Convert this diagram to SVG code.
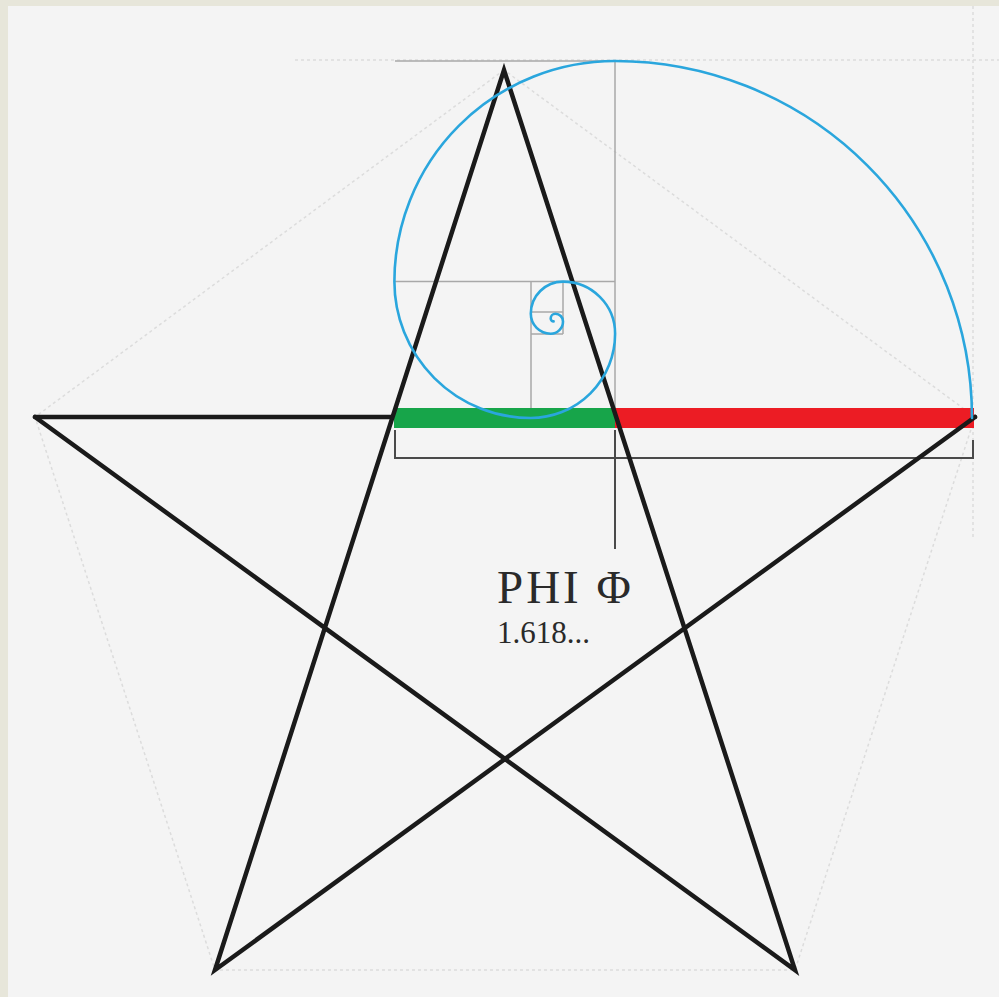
<svg xmlns="http://www.w3.org/2000/svg" width="999" height="997" viewBox="0 0 999 997">
<style>
.faint{fill:none;stroke:#dcdcdc;stroke-width:1.5;stroke-dasharray:3 3}
.guide{fill:none;stroke:#a8a8a8;stroke-width:1.5}
.star{fill:none;stroke:#1a1a1a;stroke-width:4.5;stroke-linejoin:miter;stroke-linecap:round}
.spiral{fill:none;stroke:#2aa6dd;stroke-width:2.6;stroke-linecap:round}
.bracket{fill:none;stroke:#4a4a4a;stroke-width:2}
.lbl{font-family:"Liberation Serif","DejaVu Serif",serif;fill:#2a2a2a}
</style>
<rect width="999" height="997" fill="#e7e6da"/>
<rect x="8" y="6" width="991" height="991" fill="#f4f4f4"/>
<g id="pentagon">
<path class="faint" d="M504,70 L35,417 L215,970 L795,970 L975,417 Z"/>
<line class="faint" x1="295" y1="60" x2="999" y2="60"/>
<line class="faint" x1="973" y1="6" x2="973" y2="540"/>
</g>
<g id="guides">
<line class="guide" x1="395" y1="61" x2="615" y2="61"/>
<line class="guide" x1="615" y1="61" x2="615" y2="418"/>
<line class="guide" x1="395" y1="281.6" x2="615" y2="281.6"/>
<line class="guide" x1="531" y1="281.6" x2="531" y2="418"/>
<line class="guide" x1="531" y1="312" x2="563" y2="312"/>
<line class="guide" x1="563" y1="281.6" x2="563" y2="334"/>
<line class="guide" x1="531" y1="334" x2="563" y2="334"/>
</g>
<g id="star-base">
<line class="star" x1="35" y1="417" x2="975" y2="417"/>
</g>
<g id="segments">
<rect id="green" x="394" y="408" width="221" height="20" fill="#17a54a"/>
<rect id="red" x="615" y="408" width="359" height="20" fill="#ec1c24"/>
</g>
<g id="bracket">
<path class="bracket" d="M395,430 V458 H973 V440"/>
<line class="bracket" x1="615" y1="430" x2="615" y2="549"/>
</g>
<g id="star">
<path class="star" d="M35,417 L795,970 L504,70 L215,970 L975,417"/>
</g>
<g id="spiral">
<path class="spiral" d="M972,418 A357,357 0 0 0 615,61 A220.6,220.6 0 0 0 394.4,281.6 A136.4,136.4 0 0 0 530.8,418 A84.3,84.3 0 0 0 615.1,333.7 A52.1,52.1 0 0 0 563,281.6 A32.2,32.2 0 0 0 530.8,313.8 A19.9,19.9 0 0 0 550.7,333.7 A12.3,12.3 0 0 0 563,321.4 A7.6,7.6 0 0 0 555.4,313.8 A4.7,4.7 0 0 0 550.7,318.5 A2.9,2.9 0 0 0 553.6,321.4"/>
</g>
<g id="label">
<text class="lbl" x="497" y="603" font-size="47" letter-spacing="3">PHI Φ</text>
<text class="lbl" x="497" y="643" font-size="31">1.618...</text>
</g>
</svg>
